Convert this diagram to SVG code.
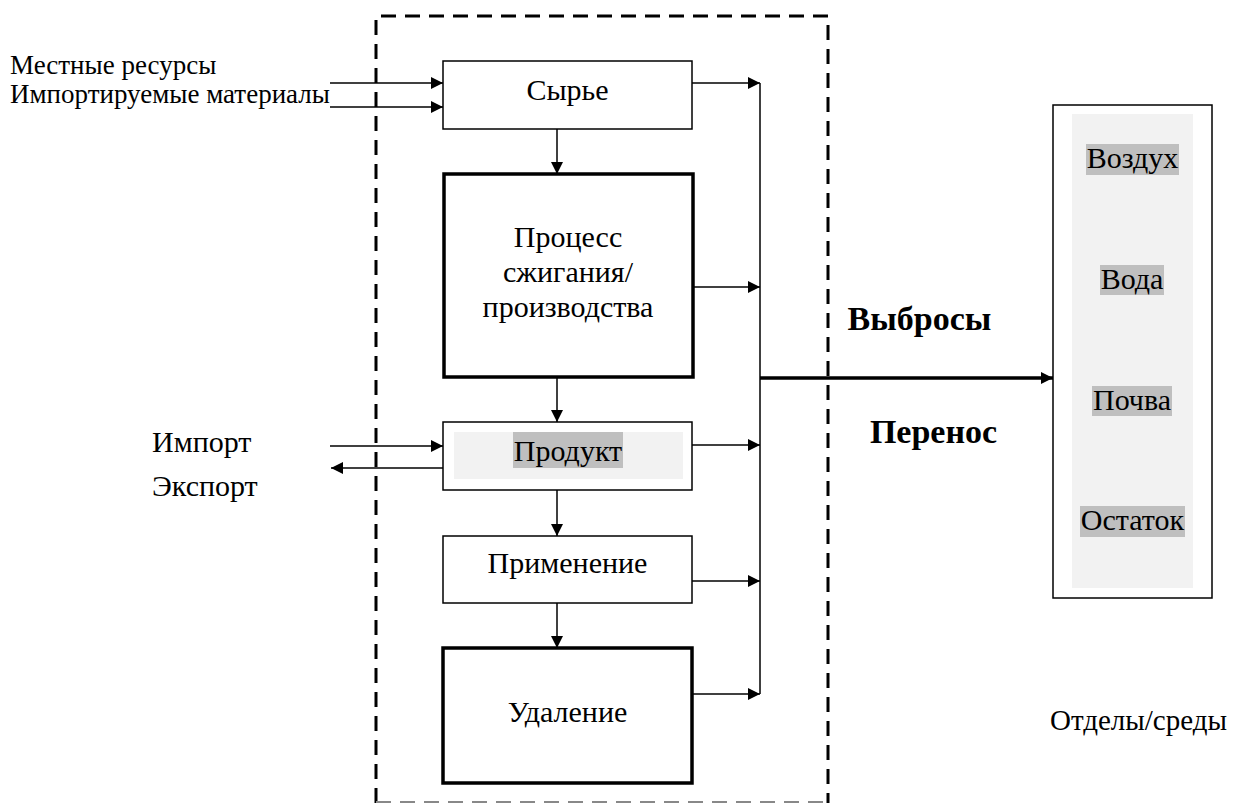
<svg xmlns="http://www.w3.org/2000/svg" width="1235" height="805" viewBox="0 0 1235 805">
<style>
text{font-family:"Liberation Serif","Times New Roman",serif;font-size:30px;fill:#000}
.c{text-anchor:middle}
.s{font-size:27px}
.m{font-size:29px}
.b{font-weight:bold;font-size:34px}
.thin{fill:#fff;stroke:#000;stroke-width:1.5}
.thick{fill:#fff;stroke:#000;stroke-width:3.5}
.ln{stroke:#000;stroke-width:1.5;fill:none}
.dash{stroke:#000;stroke-width:3;fill:none;stroke-dasharray:15 9}
.bg{fill:#f2f2f2}
.hl{fill:#bfbfbf}
</style>
<defs>
<marker id="a" viewBox="0 0 10 10" refX="10" refY="5" markerUnits="userSpaceOnUse" markerWidth="15" markerHeight="12" orient="auto"><path d="M0,0L10,5L0,10z" fill="#000"/></marker>
</defs>
<g id="boundary">
<path class="dash" d="M376,803 V16 H828 V803"/>
<line x1="376" y1="802" x2="828" y2="802" stroke="#888" stroke-width="2" stroke-dasharray="15 9"/>
</g>
<g id="connectors">
<path class="ln" d="M330,83 H443" marker-end="url(#a)"/>
<path class="ln" d="M330,107 H443" marker-end="url(#a)"/>
<path class="ln" d="M692,83 H760" marker-end="url(#a)"/>
<path class="ln" d="M557,129 V174" marker-end="url(#a)"/>
<path class="ln" d="M693,287 H760" marker-end="url(#a)"/>
<path class="ln" d="M557,377 V422" marker-end="url(#a)"/>
<path class="ln" d="M330,446 H443" marker-end="url(#a)"/>
<path class="ln" d="M443,468 H331" marker-end="url(#a)"/>
<path class="ln" d="M692,445 H760" marker-end="url(#a)"/>
<path class="ln" d="M557,490 V536" marker-end="url(#a)"/>
<path class="ln" d="M692,581 H760" marker-end="url(#a)"/>
<path class="ln" d="M557,603 V648" marker-end="url(#a)"/>
<path class="ln" d="M692,694 H760" marker-end="url(#a)"/>
<path class="ln" d="M760,83 V694"/>
<path d="M760,378 H1053" stroke="#000" stroke-width="3.5" fill="none" marker-end="url(#a)"/>
</g>
<g id="raw">
<rect class="thin" x="443" y="61" width="249" height="68"/>
<text class="c" x="567.5" y="100">Сырье</text>
</g>
<g id="process">
<rect class="thick" x="444" y="174" width="249" height="203"/>
<text class="c" x="568" y="247">Процесс</text>
<text class="c" x="568" y="282">сжигания/</text>
<text class="c" x="568" y="317">производства</text>
</g>
<g id="product">
<rect class="thin" x="443" y="422" width="249" height="68"/>
<rect class="bg" x="454" y="432" width="229" height="47"/>
<rect class="hl" x="513" y="432" width="110" height="36"/>
<text class="c" x="568" y="461">Продукт</text>
</g>
<g id="use">
<rect class="thin" x="443" y="536" width="249" height="67"/>
<text class="c" x="567.5" y="573">Применение</text>
</g>
<g id="disposal">
<rect class="thick" x="443" y="648" width="249" height="135"/>
<text class="c" x="567.5" y="722">Удаление</text>
</g>
<g id="inputs">
<text class="s" x="10" y="74">Местные ресурсы</text>
<text class="s" x="10" y="103">Импортируемые материалы</text>
</g>
<g id="trade">
<text x="152" y="452">Импорт</text>
<text x="152" y="496">Экспорт</text>
</g>
<g id="flow-labels">
<text class="c b" x="919.5" y="330">Выбросы</text>
<text class="c b" x="933.5" y="443">Перенос</text>
</g>
<g id="compartments">
<rect class="thin" x="1053" y="105" width="159" height="493"/>
<rect class="bg" x="1072" y="114" width="121" height="474"/>
<rect class="hl" x="1086" y="144" width="93" height="31"/>
<text class="c" x="1132.5" y="168">Воздух</text>
<rect class="hl" x="1100" y="265" width="64" height="30"/>
<text class="c" x="1132" y="289">Вода</text>
<rect class="hl" x="1092" y="386" width="80" height="30"/>
<text class="c" x="1132" y="410">Почва</text>
<rect class="hl" x="1080" y="506" width="105" height="31"/>
<text class="c" x="1132.5" y="530">Остаток</text>
<text class="m" x="1050" y="730">Отделы/среды</text>
</g>
</svg>
